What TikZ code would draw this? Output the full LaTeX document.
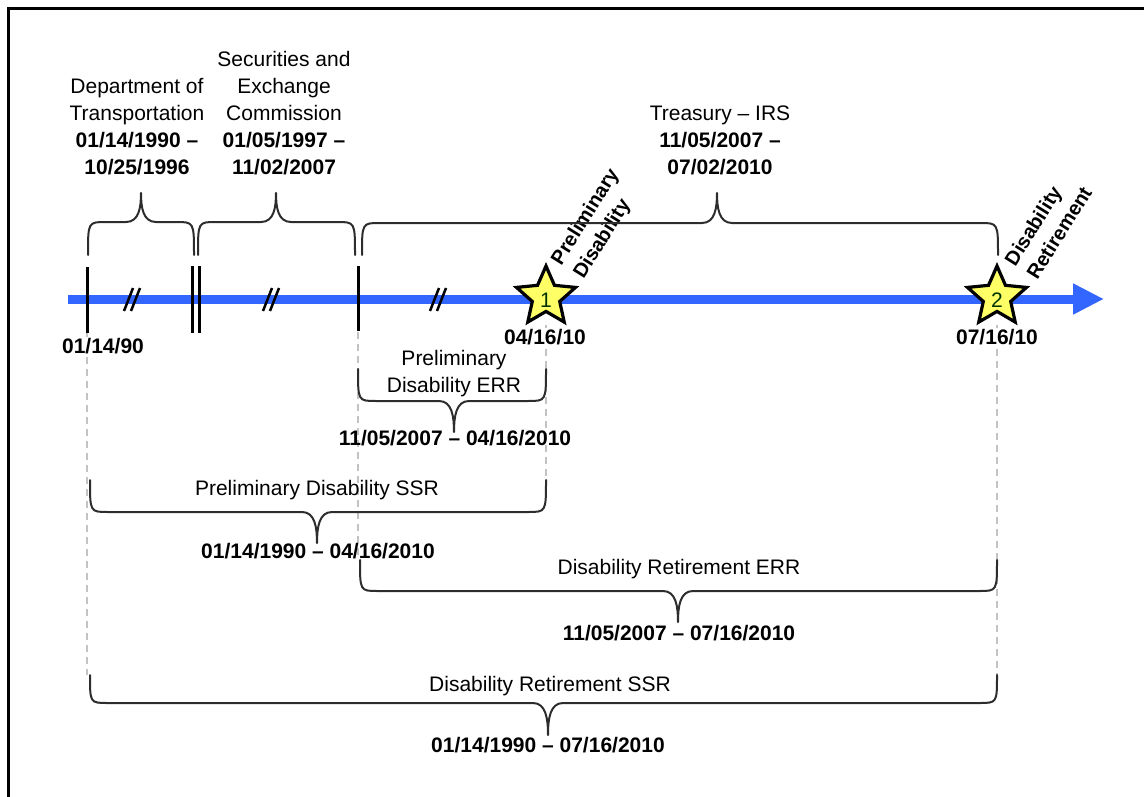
\documentclass[tikz,border=0pt]{standalone}
\usepackage{fontspec}
\setmainfont{Liberation Sans}
\usetikzlibrary{shapes.geometric,arrows.meta}
\definecolor{tlblue}{RGB}{51,102,255}
\definecolor{staryellow}{RGB}{255,255,102}
\definecolor{dashgray}{RGB}{195,195,195}
\definecolor{bracegray}{RGB}{45,45,45}
\tikzset{
  lbl/.style={font=\fontsize{21}{27}\selectfont, align=center, inner sep=0pt},
  bl/.style={font=\fontsize{21}{27}\selectfont\bfseries, align=center, inner sep=0pt},
  datelbl/.style={font=\fontsize{21}{27}\selectfont\bfseries, inner sep=1pt, fill=white},
  rotlbl/.style={font=\fontsize{20}{26}\selectfont\bfseries, align=left, inner sep=0pt, rotate=58},
  bracestyle/.style={draw=bracegray, line width=2pt, line join=round, line cap=round},
  tickstyle/.style={draw=black, line width=3pt},
  brkstyle/.style={draw=black, line width=2.5pt},
  guide/.style={draw=dashgray, line width=1.5pt, dash pattern=on 7pt off 5pt},
  starshape/.style={star, star points=5, star point ratio=2.15, minimum size=62pt, inner sep=0pt, fill=staryellow, draw=black, line width=3.2pt},
  starnum/.style={font=\fontsize{21}{22}\selectfont, text=black!80!green, inner sep=0pt},
}
\newcommand\tlbrace[6]{%
  \draw[bracestyle] (#1,#4) .. controls (#1,#5) and (#1,#5) .. (#1+18,#5)
    -- (#3-15,#5) .. controls (#3-2,#5) and (#3,0.5*#5+0.5*#6) .. (#3,#6)
    .. controls (#3,0.5*#5+0.5*#6) and (#3+2,#5) .. (#3+15,#5)
    -- (#2-18,#5) .. controls (#2,#5) and (#2,#5) .. (#2,#4);}
\newcommand\brkmark[1]{\draw[brkstyle] (#1-8,311) -- (#1+1,288) (#1-1,311) -- (#1+8,288);}
\begin{document}
\begin{tikzpicture}[x=1pt,y=-1pt]
\useasboundingbox (0,0) rectangle (1144,797);
% frame
\draw[line width=3.5pt, line cap=rect] (8.5,797) -- (8.5,8.5) -- (1144,8.5);

% dashed guides
\coordinate (g1a) at (87,333); \coordinate (g1b) at (87,675);
\coordinate (g2a) at (358,332); \coordinate (g2b) at (358,560);
\coordinate (g3a) at (546,325); \coordinate (g3b) at (546,480);
\coordinate (g4a) at (997,325); \coordinate (g4b) at (997,675);
\draw[guide] (g1a) -- (g1b);
\draw[guide] (g2a) -- (g2b);
\draw[guide] (g3a) -- (g3b);
\draw[guide] (g4a) -- (g4b);

% timeline
\coordinate (tlstart) at (68,299);
\coordinate (tlend) at (1104,299);
\draw[tlblue, line width=9pt, -{Triangle[length=31pt,width=29pt]}] (tlstart) -- (tlend);

% ticks
\draw[tickstyle] (87,267) -- (87,333);
\draw[tickstyle] (192,266) -- (192,333);
\draw[tickstyle] (199,266) -- (199,333);
\draw[tickstyle] (358,266) -- (358,331);

% break marks
\brkmark{132}
\brkmark{271}
\brkmark{438}

% stars
\node[starshape] (s1) at (546,297) {};
\node[starnum] (n1) at (546,300) {1};
\node[starshape] (s2) at (997,297) {};
\node[starnum] (n2) at (997,300) {2};

% date labels on timeline
\node[datelbl] (d1) at (103,346) {01/14/90};
\node[datelbl] (d2) at (545,337) {04/16/10};
\node[datelbl] (d3) at (997,337) {07/16/10};

% rotated event labels
\node[rotlbl] (e1) at (597,224) {Preliminary\\Disability};
\node[rotlbl] (e2) at (1048,226) {Disability\\Retirement};

% top braces
\tlbrace{88}{194}{141}{255}{222}{193}
\tlbrace{198}{355}{276}{255}{222}{193}
\tlbrace{362}{998}{717}{255}{223}{193}

% top labels
\node[lbl] (t1) at (137,127) {Department of\\Transportation\\\textbf{01/14/1990 –}\\\textbf{10/25/1996}};
\node[lbl] (t2) at (284,113) {Securities and\\Exchange\\Commission\\\textbf{01/05/1997 –}\\\textbf{11/02/2007}};
\node[lbl] (t3) at (720,140) {Treasury – IRS\\\textbf{11/05/2007 –}\\\textbf{07/02/2010}};

% bottom braces
\tlbrace{358}{546}{454}{369}{401}{432}
\tlbrace{90}{546}{317}{480}{512}{543}
\tlbrace{360}{997}{678}{560}{591}{622}
\tlbrace{90}{997}{548}{675}{703}{735}

% bottom labels
\node[lbl] (b1) at (454,374) {Preliminary\\Disability ERR};
\node[bl] (b1d) at (455,438) {11/05/2007 – 04/16/2010};
\node[lbl] (b2) at (317,490) {Preliminary Disability SSR};
\node[bl] (b2d) at (318,551) {01/14/1990 – 04/16/2010};
\node[lbl] (b3) at (679,569) {Disability Retirement ERR};
\node[bl] (b3d) at (679,633) {11/05/2007 – 07/16/2010};
\node[lbl] (b4) at (550,686) {Disability Retirement SSR};
\node[bl] (b4d) at (548,745) {01/14/1990 – 07/16/2010};
\end{tikzpicture}
\end{document}
